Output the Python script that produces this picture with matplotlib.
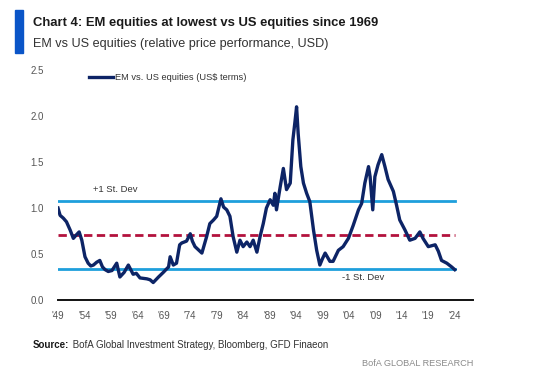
import matplotlib
matplotlib.use("Agg")
import matplotlib.pyplot as plt
from matplotlib.font_manager import FontProperties
from matplotlib.patches import Rectangle

FAMILY = "Liberation Sans"


def fp(size, bold=False):
    return FontProperties(family=FAMILY, size=size, weight="bold" if bold else "normal")

# ---- data ----
years = [1949.0, 1949.4, 1950.0, 1950.6, 1951.3, 1951.9, 1952.5, 1953.0, 1953.5, 1954.1,
         1954.7, 1955.2, 1955.7, 1956.3, 1956.9, 1957.4, 1957.9, 1958.5, 1959.2, 1960.1,
         1960.7, 1961.5, 1962.3, 1963.2, 1963.8, 1964.5, 1965.8, 1966.4, 1967.0, 1968.0,
         1968.9, 1969.9, 1970.2, 1970.8, 1971.4, 1972.0, 1972.4, 1973.3, 1974.0, 1974.4,
         1974.9, 1976.2, 1977.1, 1977.7, 1978.4, 1979.0, 1979.8, 1980.3, 1980.9, 1981.5,
         1982.1, 1982.8, 1983.4, 1984.0, 1984.7, 1985.3, 1985.9, 1986.6, 1987.2, 1987.8,
         1988.4, 1989.1, 1989.7, 1990.0, 1990.3, 1991.0, 1991.6, 1992.2, 1992.9, 1993.4,
         1993.8, 1994.1, 1994.4, 1994.9, 1995.4, 1996.0, 1996.6, 1997.3, 1997.9, 1998.5,
         1999.0, 1999.5, 2000.4, 2001.0, 2002.0, 2002.9, 2003.9, 2004.8, 2005.8, 2006.4,
         2007.0, 2007.7, 2008.0, 2008.5, 2008.9, 2009.5, 2010.2, 2010.8, 2011.4, 2012.4,
         2013.0, 2013.6, 2014.6, 2015.5, 2016.5, 2017.4, 2018.0, 2019.0, 2020.3, 2020.9,
         2021.5, 2022.5, 2023.4, 2024.0]
values = [1.00, 0.92, 0.89, 0.85, 0.76, 0.67, 0.71, 0.74, 0.65, 0.47,
          0.40, 0.37, 0.38, 0.41, 0.43, 0.36, 0.33, 0.31, 0.32, 0.40,
          0.25, 0.30, 0.38, 0.28, 0.29, 0.24, 0.23, 0.22, 0.19, 0.25,
          0.30, 0.36, 0.47, 0.38, 0.40, 0.60, 0.62, 0.64, 0.72, 0.64,
          0.58, 0.51, 0.69, 0.83, 0.87, 0.91, 1.10, 1.01, 0.98, 0.91,
          0.69, 0.52, 0.65, 0.58, 0.63, 0.58, 0.65, 0.52, 0.69, 0.83,
          1.00, 1.09, 1.03, 1.16, 0.98, 1.23, 1.43, 1.20, 1.27, 1.74,
          1.94, 2.10, 1.81, 1.45, 1.27, 1.16, 1.07, 0.76, 0.54, 0.38,
          0.45, 0.51, 0.42, 0.42, 0.54, 0.58, 0.67, 0.81, 0.98, 1.05,
          1.27, 1.45, 1.34, 0.98, 1.34, 1.47, 1.58, 1.45, 1.31, 1.18,
          1.03, 0.87, 0.76, 0.65, 0.67, 0.74, 0.67, 0.58, 0.60, 0.53,
          0.43, 0.40, 0.36, 0.33]
mean_level = 0.71
plus_sd = 1.076
minus_sd = 0.337
tick_years = list(range(1949, 2025, 5))
tick_labels = ["'" + str(y)[2:] for y in tick_years]
y_ticks = [0.0, 0.5, 1.0, 1.5, 2.0, 2.5]

NAVY = "#0d2466"
LBLUE = "#1e9fdc"
RED = "#b3123d"
GRAY = "#555555"

fig = plt.figure(figsize=(5.6, 3.77), dpi=100)
ax = fig.add_axes([58/560, 77/377, 415/560, 230/377])

x0, x1 = years[0], years[-1]
ax.plot([x0, x1], [plus_sd, plus_sd], color=LBLUE, lw=2.0, zorder=2)
ax.plot([x0, x1], [minus_sd, minus_sd], color=LBLUE, lw=2.0, zorder=2)
ax.plot([x0, x1], [mean_level, mean_level], color=RED, lw=2.0, ls=(0, (3, 1.6)), zorder=2)
ax.plot(years, values, color=NAVY, lw=2.4, zorder=3, solid_joinstyle="round",
        label="EM vs. US equities (US$ terms)")

ax.set_xlim(1949, 1949 + 415/5.29)
ax.set_ylim(0, 2.5)
ax.set_xticks(tick_years)
ax.set_xticklabels(tick_labels)
ax.set_yticks(y_ticks)
ax.set_yticklabels([f"{v:.1f}" for v in y_ticks])
for s in ["top", "right", "left"]:
    ax.spines[s].set_visible(False)
ax.spines["bottom"].set_linewidth(1.4)
ax.spines["bottom"].set_color("#111111")
ax.tick_params(axis="both", length=0, colors=GRAY)
ax.tick_params(axis="x", pad=8)
ax.tick_params(axis="y", pad=10)
for lab in ax.get_xticklabels() + ax.get_yticklabels():
    lab.set_fontproperties(fp(7.0))

leg = ax.legend(loc="upper left", bbox_to_anchor=(0.074, 0.985), frameon=False,
                handlelength=2.6, handletextpad=0.2, borderpad=0, borderaxespad=0,
                prop=fp(6.7))
for t in leg.get_texts():
    t.set_color("#333333")

ax.text(1955.6, 1.196, "+1 St. Dev", color="#333333", va="center", ha="left",
        fontproperties=fp(6.8))
ax.text(2002.7, 0.245, "-1 St. Dev", color="#333333", va="center", ha="left",
        fontproperties=fp(6.8))

# header
fig.patches.append(Rectangle((15/560, 1 - 53/377), 8/560, 43/377,
                             transform=fig.transFigure, color="#0a55c8", zorder=5))
fig.text(33/560, 1 - 23/377, "Chart 4: EM equities at lowest vs US equities since 1969",
         color="#1a1a1a", va="center", fontproperties=fp(9.4, bold=True))
fig.text(33/560, 1 - 44/377, "EM vs US equities (relative price performance, USD)",
         color="#333333", va="center", fontproperties=fp(9.1))

# footer
t1 = fig.text(33/560, 1 - 345/377, "Source:", color="#1a1a1a", va="center",
              fontproperties=fp(7.0, bold=True))
fig.canvas.draw()
bb = t1.get_window_extent()
fig.text(bb.x1/560 + 1/560, 1 - 345/377, " BofA Global Investment Strategy, Bloomberg, GFD Finaeon",
         color="#333333", va="center", fontproperties=fp(7.0))
fig.text(473/560, 1 - 363/377, "BofA GLOBAL RESEARCH", color="#8a8a8a", va="center",
         ha="right", fontproperties=fp(6.6))

fig.savefig("out.png", dpi=100)
